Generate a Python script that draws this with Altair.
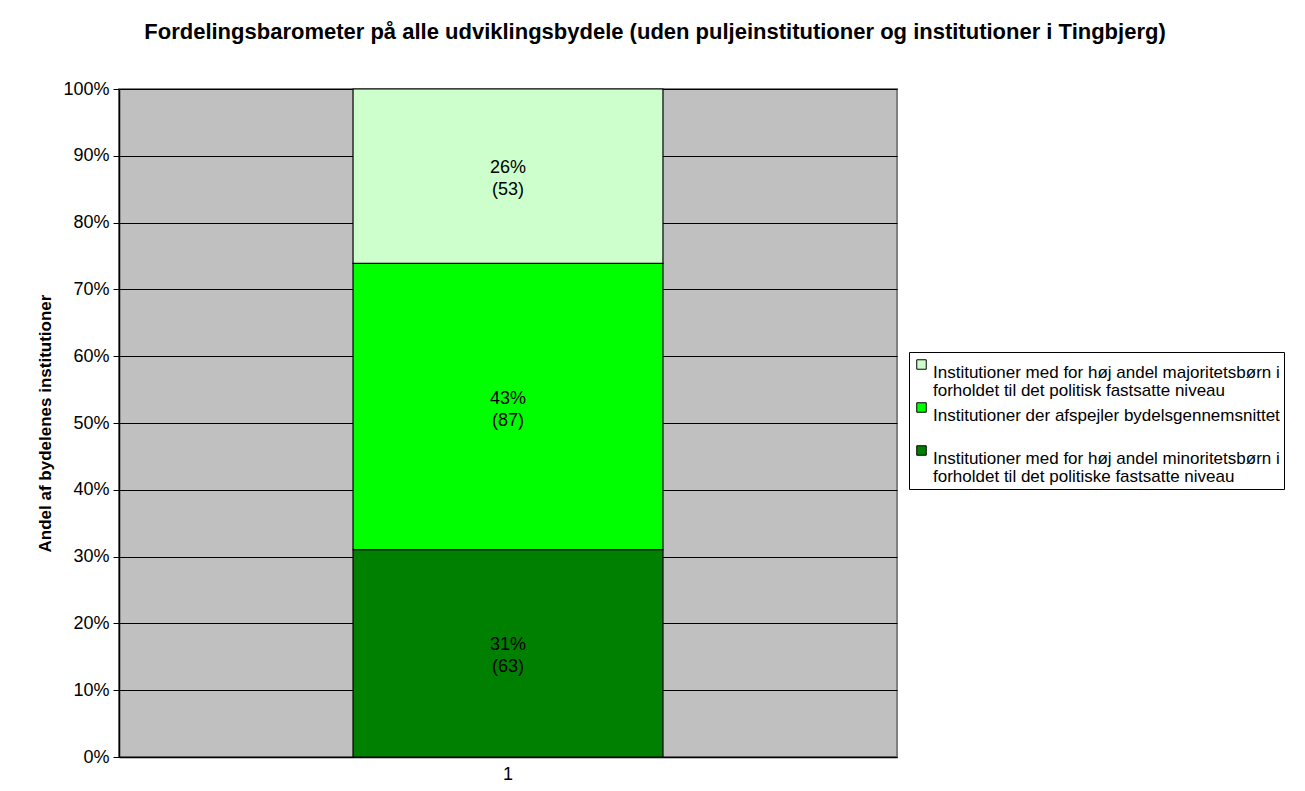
import altair as alt
import pandas as pd

categories = ["1"]
series = [
    "Institutioner med for høj andel minoritetsbørn i|forholdet til det politiske fastsatte niveau",
    "Institutioner der afspejler bydelsgennemsnittet| ",
    "Institutioner med for høj andel majoritetsbørn i|forholdet til det politisk fastsatte niveau",
]
counts = [63, 87, 53]
pct_labels = ["31%", "43%", "26%"]
stack_order = [1, 2, 3]
colors = ["#008000", "#00FF00", "#CCFFCC"]

df = pd.DataFrame({
    "cat": categories * len(series),
    "series": series,
    "count": counts,
    "pct": pct_labels,
    "ord": stack_order,
})

FONT = "Liberation Sans"
legend_domain = [series[2], series[1], series[0]]
legend_range = [colors[2], colors[1], colors[0]]

base = alt.Chart(df).transform_stack(
    stack="count", groupby=["cat"], as_=["y0", "y1"], offset="normalize",
    sort=[alt.SortField("ord", order="ascending")],
)

xenc = alt.X(
    "cat:N",
    title=None,
    scale=alt.Scale(paddingInner=0, paddingOuter=0.755),
    axis=alt.Axis(labelAngle=0, ticks=False, domainColor="#000000", domainWidth=1.5,
                  labelFontSize=18, labelPadding=8, labelColor="#000000"),
)

bars = base.mark_bar(stroke="#000000", strokeWidth=1.2).encode(
    x=xenc,
    y=alt.Y(
        "y0:Q",
        scale=alt.Scale(domain=[0, 1], nice=False),
        title="Andel af bydelenes institutioner",
        axis=alt.Axis(
            format=".0%", values=[i / 10 for i in range(11)], tickSize=6,
            tickColor="#000000", domainColor="#000000", domainWidth=1.5,
            gridColor="#000000", gridWidth=1, grid=True,
            labelFontSize=18, labelPadding=4, labelColor="#000000",
            titleFontSize=17, titleFontWeight="bold", titleColor="#000000",
            titleX=-74, titleY=334, titleAngle=-90, titleAlign="center",
            titleBaseline="middle",
        ),
    ),
    y2="y1:Q",
    color=alt.Color(
        "series:N",
        scale=alt.Scale(domain=legend_domain, range=legend_range),
        legend=alt.Legend(
            title=None, orient="none", legendX=790, legendY=263,
            strokeColor="#000000", padding=4, fillColor="#FFFFFF",
            symbolType="square", symbolSize=90, symbolStrokeColor="#000000",
            symbolStrokeWidth=1, symbolOpacity=1,
            labelFontSize=17, labelLimit=2000, labelColor="#000000",
            labelExpr="split(datum.label, '|')", labelBaseline="top",
            labelOffset=3, rowPadding=0,
        ),
    ),
    order=alt.Order("ord:Q"),
)

text = base.transform_calculate(
    mid="(datum.y0 + datum.y1) / 2",
    lbl="datum.pct + '\\n(' + datum.count + ')'",
).mark_text(fontSize=18, lineBreak="\n", lineHeight=22, color="#000000",
            baseline="middle", dy=-8).encode(
    x=alt.X("cat:N"),
    y=alt.Y("mid:Q"),
    text="lbl:N",
)

chart = alt.layer(bars, text).properties(
    width=778,
    height=668,
    title=alt.TitleParams(
        "Fordelingsbarometer på alle udviklingsbydele (uden puljeinstitutioner og institutioner i Tingbjerg)",
        fontSize=22, fontWeight="bold", color="#000000", anchor="middle", dx=147, offset=36,
    ),
    autosize=alt.AutoSizeParams(type="none"),
    padding={"left": 111, "top": 81, "right": 400, "bottom": 26},
).configure(
    font=FONT, style={"guide-label": {"lineHeight": 18}}
).configure_view(
    fill="#C0C0C0", stroke="#808080", strokeWidth=2
)

chart.save("out.html", embed_options={"renderer": "svg", "actions": False})
